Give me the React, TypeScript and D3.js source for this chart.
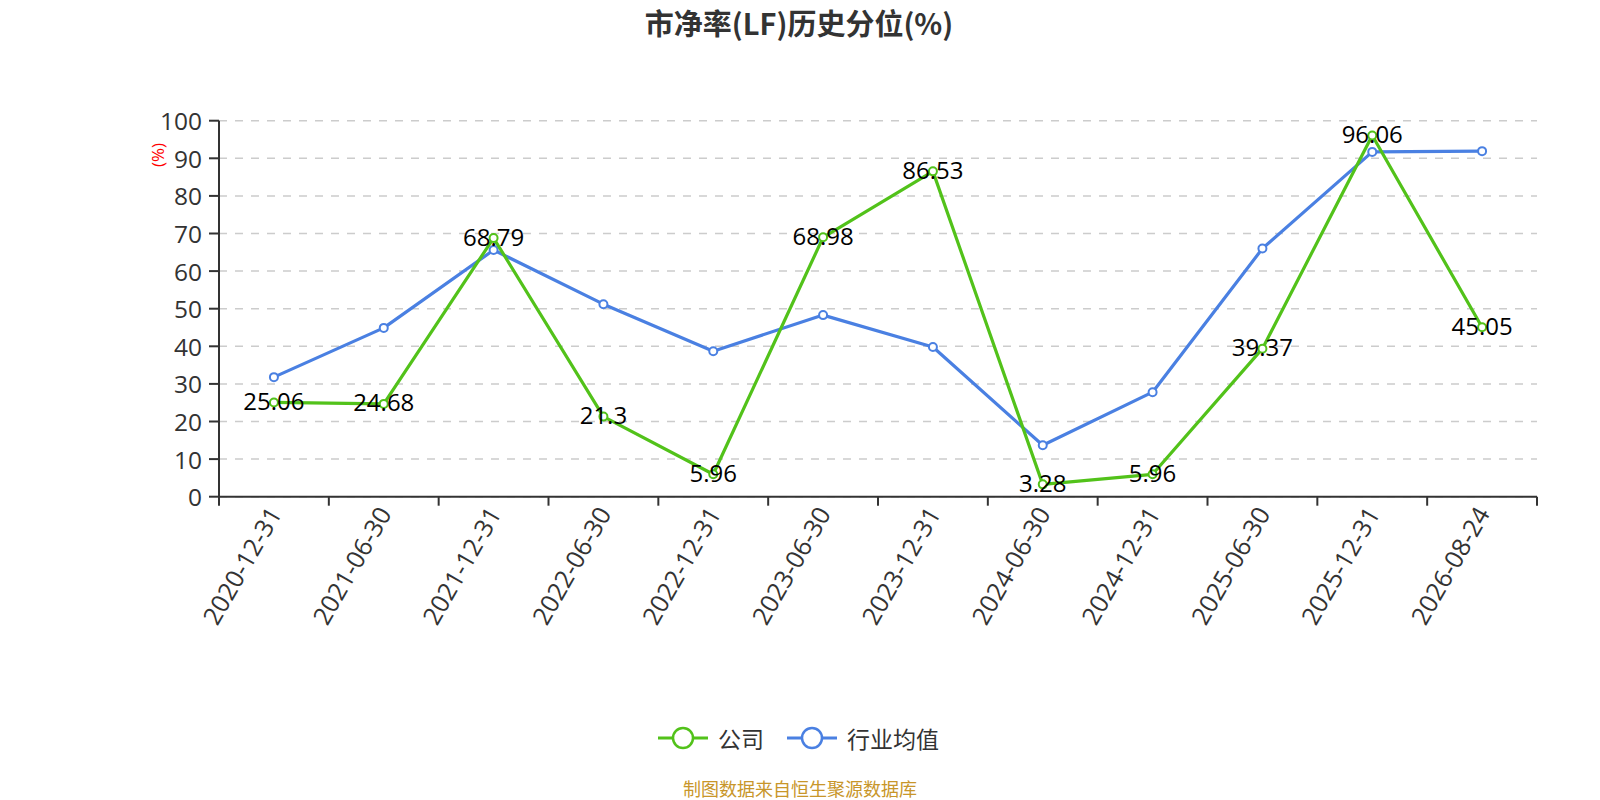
import React from "react";
import * as d3 from "d3";

const categories = [
  "2020-12-31", "2021-06-30", "2021-12-31", "2022-06-30", "2022-12-31", "2023-06-30",
  "2023-12-31", "2024-06-30", "2024-12-31", "2025-06-30", "2025-12-31", "2026-08-24",
];
const companyValues = [25.06, 24.68, 68.79, 21.3, 5.96, 68.98, 86.53, 3.28, 5.96, 39.37, 96.06, 45.05];
const industryValues = [31.8, 44.9, 65.6, 51.2, 38.7, 48.3, 39.8, 13.7, 27.8, 66.0, 91.7, 91.9];
const yTicks = [0, 10, 20, 30, 40, 50, 60, 70, 80, 90, 100];

const title = "市净率(LF)历史分位(%)";
const seriesNames = ["公司", "行业均值"];
const footer = "制图数据来自恒生聚源数据库";

const GREEN = "#52c21a";
const BLUE = "#4a80e2";
const FONT = "'Open Sans', 'Noto Sans CJK SC', sans-serif";
const CJK = "'Noto Sans CJK SC', 'Open Sans', sans-serif";

export default function App() {
  const W = 1600, H = 800;
  const left = 219, right = 1537, top = 120.7, bottom = 496.7;
  const x = d3.scaleBand<string>().domain(categories).range([left, right]);
  const y = d3.scaleLinear().domain([0, 100]).range([bottom, top]);
  const cx = (c: string) => (x(c) as number) + x.bandwidth() / 2;

  const line = d3
    .line<number>()
    .x((_, i) => cx(categories[i]))
    .y((v) => y(v));

  const series = [
    { name: seriesNames[1], values: industryValues, color: BLUE },
    { name: seriesNames[0], values: companyValues, color: GREEN },
  ];

  const bandEdges = categories.map((c) => x(c) as number).concat([right]);

  return (
    <svg
      width={W}
      height={H}
      style={{ position: "absolute", left: 0, top: 0, background: "#fff" }}
    >
      <text x={799} y={22} textAnchor="middle" dominantBaseline="central"
        fontFamily={CJK} fontWeight="bold" fontSize={29} fill="#333">{title}</text>

      {/* grid */}
      {yTicks.map((t) => (
        <line key={"g" + t} x1={left} x2={right} y1={y(t)} y2={y(t)}
          stroke="#cccccc" strokeWidth={1.5} strokeDasharray="8,8" />
      ))}

      {/* y axis */}
      <line x1={left} x2={left} y1={top} y2={bottom} stroke="#333" strokeWidth={2} />
      {yTicks.map((t) => (
        <g key={"yt" + t}>
          <line x1={left - 10} x2={left} y1={y(t)} y2={y(t)} stroke="#333" strokeWidth={2} />
          <text x={202} y={y(t)} textAnchor="end" dominantBaseline="central"
            fontFamily={FONT} fontSize={24.5} fill="#333">{t}</text>
        </g>
      ))}
      <text transform={`translate(157,155) rotate(-90)`} textAnchor="middle"
        dominantBaseline="central" fontFamily={FONT} fontSize={17} fill="red">(%)</text>

      {/* x axis */}
      <line x1={left} x2={right} y1={bottom} y2={bottom} stroke="#333" strokeWidth={2} />
      {bandEdges.map((e, i) => (
        <line key={"xt" + i} x1={e} x2={e} y1={bottom} y2={bottom + 9} stroke="#333" strokeWidth={2} />
      ))}
      {categories.map((c) => (
        <text key={"xl" + c} transform={`translate(${cx(c)},${bottom + 12}) rotate(-60)`}
          textAnchor="end" dominantBaseline="central" fontFamily={FONT} fontSize={25} fill="#333">{c}</text>
      ))}

      {/* lines */}
      {series.map((s) => (
        <g key={s.name}>
          <path d={line(s.values) || ""} fill="none" stroke={s.color} strokeWidth={3.2}
            strokeLinejoin="round" />
          {s.values.map((v, i) => (
            <circle key={i} cx={cx(categories[i])} cy={y(v)} r={4} fill="#fff"
              stroke={s.color} strokeWidth={2} />
          ))}
        </g>
      ))}

      {/* labels */}
      {companyValues.map((v, i) => (
        <text key={"lab" + i} x={cx(categories[i])} y={y(v) - 2} textAnchor="middle"
          dominantBaseline="central" fontFamily={FONT} fontSize={24} fill="#000">{String(v)}</text>
      ))}

      {/* legend */}
      {[
        { name: seriesNames[0], color: GREEN, x0: 658 },
        { name: seriesNames[1], color: BLUE, x0: 787 },
      ].map((l) => (
        <g key={"lg" + l.name}>
          <line x1={l.x0} x2={l.x0 + 50} y1={738} y2={738} stroke={l.color} strokeWidth={3} />
          <circle cx={l.x0 + 25} cy={738} r={10} fill="#fff" stroke={l.color} strokeWidth={2.5} />
          <text x={l.x0 + 60} y={738} dominantBaseline="central" fontFamily={CJK}
            fontSize={23} fill="#333">{l.name}</text>
        </g>
      ))}

      <text x={800} y={788} textAnchor="middle" dominantBaseline="central" fontFamily={CJK}
        fontSize={18} fill="#c8962a">{footer}</text>
    </svg>
  );
}
